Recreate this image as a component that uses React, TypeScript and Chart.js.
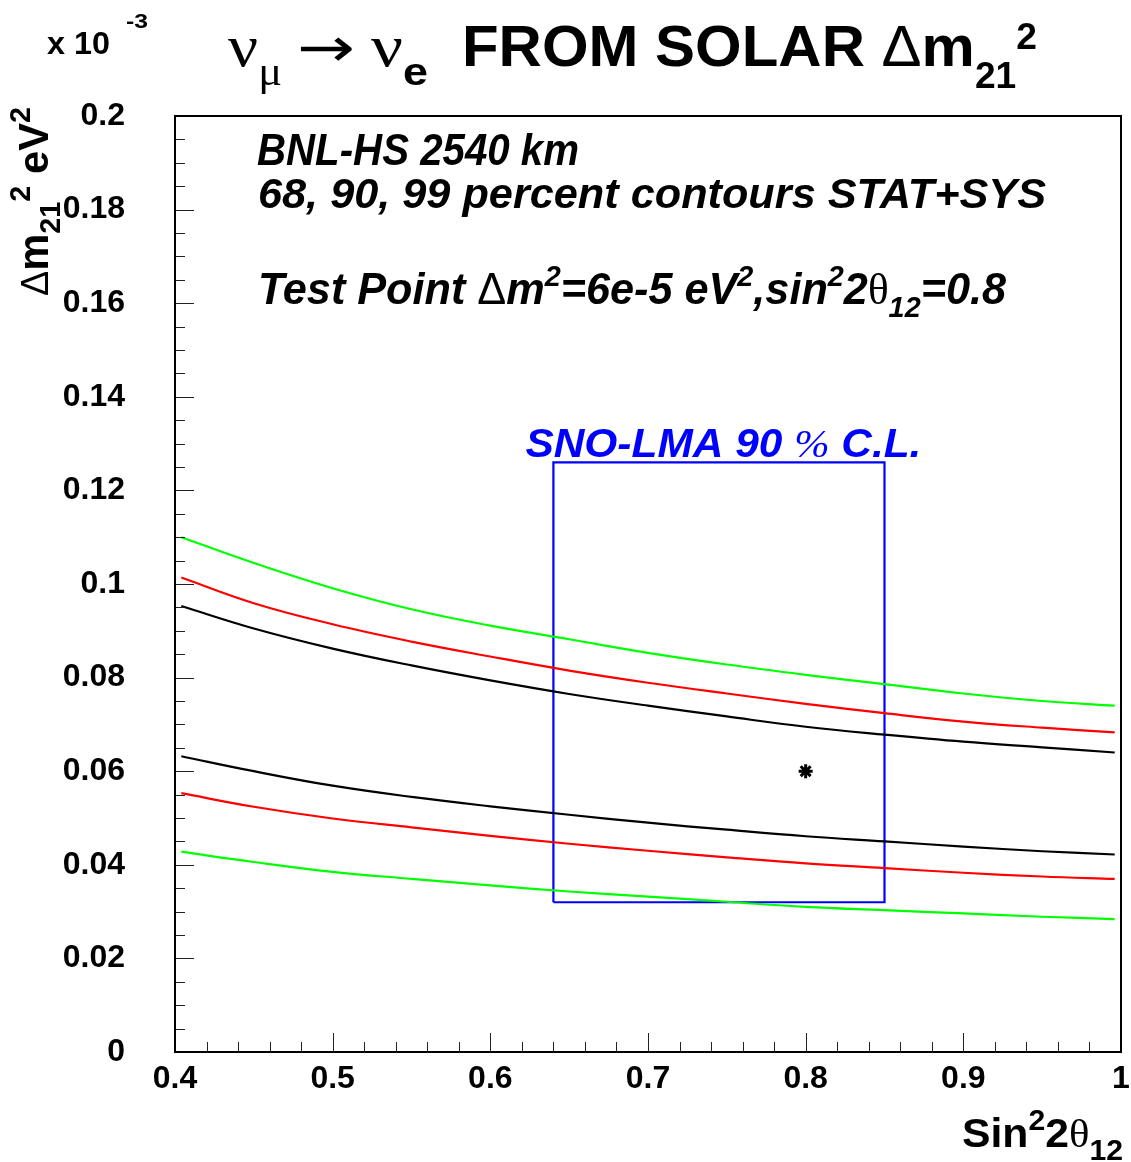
import React, { useEffect, useRef } from "react";
import { Chart, registerables } from "chart.js";

Chart.register(...registerables);

const SANS = '"Liberation Sans", Arial, Helvetica, sans-serif';
const SERIF = '"Liberation Serif", "Times New Roman", serif';

// Axis ranges (units of 1e-3 eV^2 on y)
const xRange = [0.4, 1.0];
const yRange = [0, 0.2];

// Common sin^2(2θ12) sampling of the contour branches
const curveX = [0.404, 0.45, 0.5, 0.55, 0.6, 0.65, 0.7, 0.75, 0.8, 0.85, 0.9, 0.95, 0.996];

// Upper branches
const up99Y = [0.11, 0.1045, 0.0991, 0.0946, 0.0911, 0.0882, 0.0853, 0.0828, 0.0806, 0.0786, 0.0766, 0.075, 0.074];
const up90Y = [0.1014, 0.0959, 0.0914, 0.0877, 0.0845, 0.0815, 0.0789, 0.0766, 0.0744, 0.0724, 0.0706, 0.0693, 0.0683];
const up68Y = [0.0953, 0.0905, 0.0862, 0.0826, 0.0794, 0.0765, 0.074, 0.0717, 0.0695, 0.0678, 0.0663, 0.0651, 0.064];

// Lower branches
const low68Y = [0.0632, 0.06, 0.0569, 0.0545, 0.0525, 0.0507, 0.049, 0.0475, 0.0461, 0.045, 0.0439, 0.0429, 0.0422];
const low90Y = [0.0553, 0.0524, 0.0499, 0.048, 0.0462, 0.0445, 0.043, 0.0416, 0.0403, 0.0393, 0.0383, 0.0375, 0.037];
const low99Y = [0.0428, 0.0406, 0.0385, 0.037, 0.0356, 0.0343, 0.0332, 0.0321, 0.031, 0.0303, 0.0296, 0.0289, 0.0284];

// SNO-LMA 90% C.L. box
const snoBoxX = [0.64, 0.85];
const snoBoxY = [0.032, 0.126];

// Test point
const testX = [0.8];
const testY = [0.06];

const fmt = (v: number) => String(Math.round(Number(v) * 1000) / 1000);

const pts = (xs: number[], ys: number[]) => xs.map((x, i) => ({ x, y: ys[i] }));

type Seg = { t: string; font: string; dy?: number };

function drawRich(
  ctx: CanvasRenderingContext2D,
  segs: Seg[],
  x: number,
  y: number,
  opt: { width?: number; rotate?: number; color?: string } = {}
) {
  ctx.save();
  let total = 0;
  const ws = segs.map((s) => {
    ctx.font = s.font;
    const w = ctx.measureText(s.t).width;
    total += w;
    return w;
  });
  const sx = opt.width ? opt.width / total : 1;
  ctx.translate(x, y);
  if (opt.rotate) ctx.rotate(opt.rotate);
  ctx.scale(sx, 1);
  ctx.fillStyle = opt.color || "#000";
  ctx.textBaseline = "alphabetic";
  ctx.textAlign = "left";
  let cx = 0;
  segs.forEach((s, i) => {
    ctx.font = s.font;
    ctx.fillText(s.t, cx, s.dy || 0);
    cx += ws[i];
  });
  ctx.restore();
}

const B = (n: number) => `bold ${n}px ${SANS}`;
const BI = (n: number) => `italic bold ${n}px ${SANS}`;
const SR = (n: number) => `${n}px ${SERIF}`;

const decorPlugin = {
  id: "decor",
  afterDatasetsDraw(chart: any) {
    const { ctx, chartArea: a, scales } = chart;
    const xs = scales.x;
    const ys = scales.y;
    ctx.save();
    ctx.strokeStyle = "#222";
    ctx.lineWidth = 1;
    ctx.beginPath();
    for (let i = 0; i <= 30; i++) {
      const v = xRange[0] + i * 0.02;
      const px = Math.round(xs.getPixelForValue(v)) + 0.5;
      const len = i % 5 === 0 ? 19 : 10;
      ctx.moveTo(px, a.bottom);
      ctx.lineTo(px, a.bottom - len);
    }
    for (let i = 0; i <= 40; i++) {
      const v = i * 0.005;
      const py = Math.round(ys.getPixelForValue(v)) + 0.5;
      const len = i % 4 === 0 ? 19 : 10;
      ctx.moveTo(a.left, py);
      ctx.lineTo(a.left + len, py);
    }
    ctx.stroke();
    ctx.strokeStyle = "#000";
    ctx.lineWidth = 2;
    ctx.strokeRect(a.left, a.top, a.right - a.left, a.bottom - a.top);
    ctx.restore();
  },
  afterDraw(chart: any) {
    const ctx: CanvasRenderingContext2D = chart.ctx;
    const xs = chart.scales.x;
    const ys = chart.scales.y;
    // Title part A: ν_μ → ν_e
    drawRich(ctx, [{ t: "ν", font: SR(60) }, { t: "μ", font: SR(40), dy: 19 }], 228, 66, { width: 54 });
    drawRich(ctx, [{ t: "→", font: `54px "DejaVu Sans", sans-serif` }], 297, 66, { width: 58 });
    drawRich(ctx, [{ t: "ν", font: SR(60) }, { t: "e", font: B(38), dy: 19 }], 371, 66, { width: 57 });
    // Title part B
    drawRich(
      ctx,
      [
        { t: "FROM SOLAR ", font: B(58) },
        { t: "Δ", font: `${58}px ${SANS}` },
        { t: "m", font: B(58) },
        { t: "21", font: B(36), dy: 22 },
        { t: "2", font: B(36), dy: -17 },
      ],
      462,
      66,
      { width: 575 }
    );
    // x 10^-3
    drawRich(ctx, [{ t: "x 10", font: B(31) }], 47, 54, { width: 63 });
    drawRich(ctx, [{ t: "-3", font: B(21) }], 126, 28, { width: 22 });
    // y axis title (rotated)
    drawRich(
      ctx,
      [
        { t: "Δ", font: `38px ${SANS}` },
        { t: "m", font: B(42) },
        { t: "21", font: B(29), dy: 12 },
        { t: "2", font: B(29), dy: -18 },
        { t: " eV", font: B(42) },
        { t: "2", font: B(29), dy: -18 },
      ],
      48,
      296,
      { width: 189, rotate: -Math.PI / 2 }
    );
    // x axis title
    drawRich(
      ctx,
      [
        { t: "Sin", font: B(41) },
        { t: "2", font: B(29), dy: -17 },
        { t: "2", font: B(41) },
        { t: "θ", font: SR(41) },
        { t: "12", font: B(29), dy: 13 },
      ],
      962,
      1147,
      { width: 161 }
    );
    // Annotations
    drawRich(ctx, [{ t: "BNL-HS 2540 km", font: BI(45) }], 257, 165, { width: 322 });
    drawRich(ctx, [{ t: "68, 90, 99 percent contours STAT+SYS", font: BI(43) }], 258, 208, { width: 788 });
    drawRich(
      ctx,
      [
        { t: "Test Point ", font: BI(45) },
        { t: "Δ", font: `45px ${SANS}` },
        { t: "m", font: BI(45) },
        { t: "2", font: BI(30), dy: -18 },
        { t: "=6e-5 eV", font: BI(45) },
        { t: "2", font: BI(30), dy: -18 },
        { t: ",sin", font: BI(45) },
        { t: "2", font: BI(30), dy: -18 },
        { t: "2", font: BI(45) },
        { t: "θ", font: SR(45) },
        { t: "12", font: BI(30), dy: 13 },
        { t: "=0.8", font: BI(45) },
      ],
      258,
      304,
      { width: 748 }
    );
    // SNO label (anchored to the box via scales)
    const sx = xs.getPixelForValue(snoBoxX[0]) - 28;
    const sy = ys.getPixelForValue(snoBoxY[1]) - 5;
    drawRich(
      ctx,
      [
        { t: "SNO-LMA 90 ", font: BI(41) },
        { t: "%", font: `italic 41px ${SERIF}` },
        { t: " C.L.", font: BI(41) },
      ],
      sx,
      sy,
      { width: 396, color: "#0000ff" }
    );
  },
};

export default function App() {
  const ref = useRef<HTMLCanvasElement>(null);
  useEffect(() => {
    document.body.style.margin = "0";
    const line = (xs: number[], ys: number[], color: string) => ({
      data: pts(xs, ys),
      showLine: true,
      borderColor: color,
      borderWidth: 2.2,
      pointRadius: 0,
      fill: false,
      tension: 0.4,
    });
    const box = [
      { x: snoBoxX[0], y: snoBoxY[0] },
      { x: snoBoxX[1], y: snoBoxY[0] },
      { x: snoBoxX[1], y: snoBoxY[1] },
      { x: snoBoxX[0], y: snoBoxY[1] },
      { x: snoBoxX[0], y: snoBoxY[0] },
    ];
    const tickFont = { size: 32, weight: "bold" as const, family: SANS };
    const zeroPad = (s: any) => {
      s.paddingLeft = 0;
      s.paddingRight = 0;
      s.paddingTop = 0;
      s.paddingBottom = 0;
      if (s._margins) {
        s._margins.left = 0;
        s._margins.right = 0;
        s._margins.top = 0;
        s._margins.bottom = 0;
      }
    };
    const chart = new Chart(ref.current!, {
      type: "scatter",
      data: {
        datasets: [
          line(curveX, up99Y, "#00ff00"),
          line(curveX, up90Y, "#ff0000"),
          line(curveX, up68Y, "#000000"),
          line(curveX, low68Y, "#000000"),
          line(curveX, low90Y, "#ff0000"),
          line(curveX, low99Y, "#00ff00"),
          {
            data: box,
            showLine: true,
            borderColor: "#0000ff",
            borderWidth: 2.2,
            pointRadius: 0,
            tension: 0,
          } as any,
          {
            data: pts(testX, testY),
            showLine: false,
            pointStyle: "star",
            pointRadius: 7,
            borderColor: "#000",
            backgroundColor: "#000",
            borderWidth: 3,
          } as any,
        ],
      },
      options: {
        animation: false,
        responsive: false,
        devicePixelRatio: 1,
        layout: { padding: { top: 116, right: 8, left: 0, bottom: 0 } },
        plugins: { legend: { display: false }, tooltip: { enabled: false }, title: { display: false } },
        events: [],
        scales: {
          x: {
            type: "linear",
            min: xRange[0],
            max: xRange[1],
            grid: { display: false, drawTicks: false },
            border: { display: false },
            ticks: {
              stepSize: 0.1,
              color: "#000",
              font: tickFont,
              padding: 8,
              maxRotation: 0,
              autoSkip: false,
              callback: (v: any) => fmt(v),
            },
            afterFit: (s: any) => {
              s.height = 110;
              zeroPad(s);
            },
          },
          y: {
            type: "linear",
            min: yRange[0],
            max: yRange[1],
            grid: { display: false, drawTicks: false },
            border: { display: false },
            ticks: {
              stepSize: 0.02,
              color: "#000",
              font: tickFont,
              padding: 50,
              autoSkip: false,
              callback: (v: any) => fmt(v),
            },
            afterFit: (s: any) => {
              s.width = 175;
              zeroPad(s);
            },
          },
        },
      },
      plugins: [decorPlugin],
    });
    return () => chart.destroy();
  }, []);
  return <canvas ref={ref} width={1131} height={1162} style={{ display: "block" }} />;
}
